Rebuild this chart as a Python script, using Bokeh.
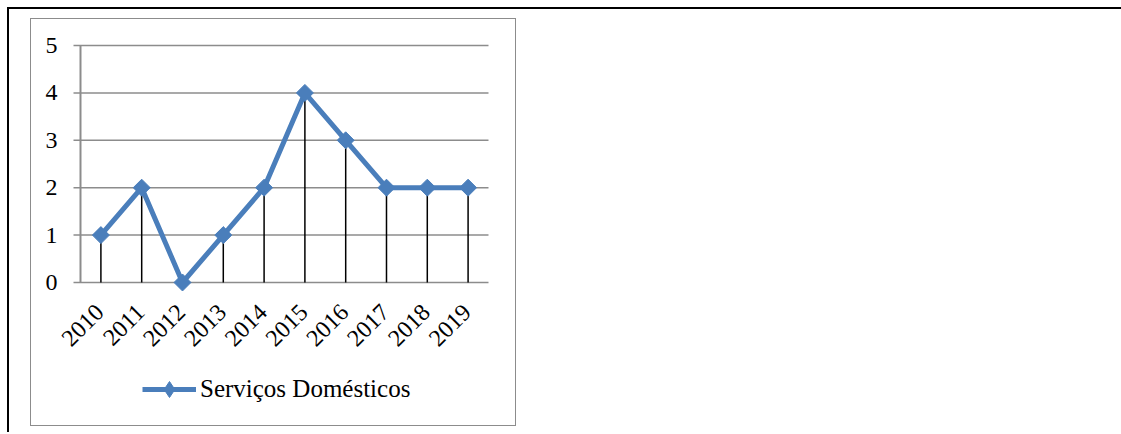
import math
from bokeh.plotting import figure
from bokeh.models import ColumnDataSource, Range1d, Legend, LegendItem
from bokeh.core.properties import value
from bokeh.layouts import column
from bokeh.embed import file_html
from bokeh.resources import INLINE

years = ["2010", "2011", "2012", "2013", "2014", "2015", "2016", "2017", "2018", "2019"]
values = [1, 2, 0, 1, 2, 4, 3, 2, 2, 2]
series_name = "Serviços Domésticos"
y_ticks = [0, 1, 2, 3, 4, 5]

LINE_COLOR = "#4a7ebb"
GRID = "#8c8c8c"
FONT = "Liberation Serif"
TICK_OUT = 0.1716  # outside tick length, in category-band units (~7px)

# categories sit in the middle of unit-wide bands
n = len(years)
xpos = [i + 0.5 for i in range(n)]
src = ColumnDataSource(dict(xp=xpos, label=years, y=values, y0=[0] * n))
tick_src = ColumnDataSource(dict(
    y=y_ticks,
    x=[0] * len(y_ticks),
    xs=[-TICK_OUT] * len(y_ticks),
    xe=[n] * len(y_ticks),
    label=[str(t) for t in y_ticks],
))
axis_src = ColumnDataSource(dict(x=[0], y0=[min(y_ticks)], y1=[max(y_ticks)]))

p = figure(
    width=484, height=406,
    x_range=Range1d(-1.201, n + 0.662),
    y_range=Range1d(-3.017, max(y_ticks) + 0.5485),
    x_axis_location=None, y_axis_location=None,
    output_backend="svg", toolbar_location=None,
    min_border_left=0, min_border_right=0, min_border_top=0, min_border_bottom=0,
    margin=(19, 0, 0, 31),
)
p.outline_line_color = None
p.background_fill_color = "white"
p.border_fill_color = "white"
p.styles = {"outline": "1px solid #8c8c8c"}
p.xgrid.visible = False
p.ygrid.visible = False

# horizontal gridlines (0 line doubles as category axis) with short outside ticks
p.segment(x0="xs", y0="y", x1="xe", y1="y", source=tick_src, line_color=GRID, line_width=1.5)
# value axis line
p.segment(x0="x", y0="y0", x1="x", y1="y1", source=axis_src, line_color=GRID, line_width=2)

# value tick labels
p.text(x="x", y="y", text="label", source=tick_src, text_align="right", text_baseline="middle",
       x_offset=-23, text_font=value(FONT), text_font_size="24px", text_color="black")

# category labels, rotated, hanging under the 0 line
p.text(x="xp", y="y0", text="label", source=src, angle=math.pi / 4,
       text_align="right", text_baseline="middle", x_offset=-1, y_offset=26,
       text_font=value(FONT), text_font_size="24px", text_color="black")

# drop lines
p.segment(x0="xp", y0="y0", x1="xp", y1="y", source=src, line_color="black", line_width=1.5)

# series
ln = p.line("xp", "y", source=src, line_color=LINE_COLOR, line_width=5, line_join="round")
mk = p.scatter("xp", "y", source=src, marker="square", angle=math.pi / 4, size=12,
               fill_color=LINE_COLOR, line_color=LINE_COLOR)
# diamond used only for the legend swatch (zero size on the plot)
lg_mk = p.scatter("xp", "y", source=src, marker="diamond", size=0,
                  fill_color=LINE_COLOR, line_color=LINE_COLOR)

legend = Legend(
    items=[LegendItem(label=series_name, renderers=[ln, lg_mk])],
    location=(111, 16),
    orientation="horizontal",
    border_line_color=None,
    background_fill_alpha=0,
    padding=0, margin=0, spacing=0,
    glyph_width=54, glyph_height=40, label_standoff=4,
    label_text_font=FONT, label_text_font_size="25px", label_text_color="black",
)
p.add_layout(legend, "center")

outer = column(
    p, width=1121, height=432,
    styles={"box-shadow": "inset 0 7px 0 0 #fff, inset 7px 0 0 0 #fff, inset 0 9px 0 0 #000, inset 9px 0 0 0 #000"},
)

open("out.html", "w").write(file_html(outer, INLINE))
